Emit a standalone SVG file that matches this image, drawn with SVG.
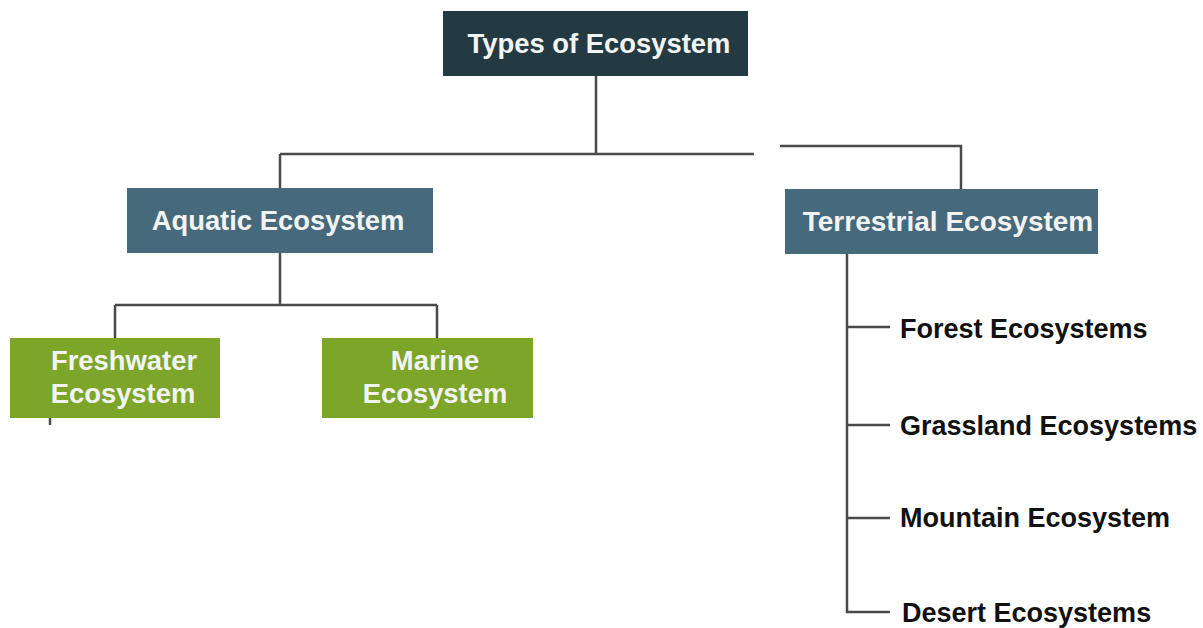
<svg xmlns="http://www.w3.org/2000/svg" width="1203" height="628" viewBox="0 0 1203 628">
  <style>
    .lbl { font-family: "Liberation Sans", Arial, sans-serif; font-weight: bold; font-size: 27.4px; }
    .box-text { fill: #f2f4f4; text-anchor: middle; }
    .item { fill: #111111; font-size: 27px; }
    .wire { fill: none; stroke: #4a4a4a; stroke-width: 2.5; }
    .dark { fill: #243a43; }
    .steel { fill: #46697c; }
    .leaf { fill: #7ca52a; }
  </style>
  <rect width="1203" height="628" fill="#ffffff"/>

  <g id="connectors">
    <!-- root to first level -->
    <path class="wire" d="M596 76 V154 M280 154 H754 M280 154 V188"/>
    <path class="wire" d="M780 146 H961 V189"/>
    <!-- aquatic branch -->
    <path class="wire" d="M280 253 V305 M115 305 H437 M115 305 V338 M437 305 V338"/>
    <path class="wire" d="M50 418 V425"/>
    <!-- terrestrial list -->
    <path class="wire" d="M847 254 V612 H890 M847 327 H890 M847 425 H890 M847 518 H890"/>
  </g>

  <g id="node-types">
    <rect class="dark" x="443" y="11" width="305" height="65"/>
    <text class="lbl box-text" x="599" y="53">Types of Ecosystem</text>
  </g>

  <g id="node-aquatic">
    <rect class="steel" x="127" y="188" width="306" height="65"/>
    <text class="lbl box-text" x="278" y="230">Aquatic Ecosystem</text>
  </g>

  <g id="node-terrestrial">
    <rect class="steel" x="785" y="189" width="313" height="65"/>
    <text class="lbl box-text" x="948" y="231" style="font-size:28px">Terrestrial Ecosystem</text>
  </g>

  <g id="node-freshwater">
    <rect class="leaf" x="10" y="338" width="210" height="80"/>
    <text class="lbl box-text" x="124" y="370">Freshwater</text>
    <text class="lbl box-text" x="123" y="403">Ecosystem</text>
  </g>

  <g id="node-marine">
    <rect class="leaf" x="322" y="338" width="211" height="80"/>
    <text class="lbl box-text" x="435" y="370">Marine</text>
    <text class="lbl box-text" x="435" y="403">Ecosystem</text>
  </g>

  <g id="node-forest">
    <text class="lbl item" x="900" y="338">Forest Ecosystems</text>
  </g>
  <g id="node-grassland">
    <text class="lbl item" x="900" y="435">Grassland Ecosystems</text>
  </g>
  <g id="node-mountain">
    <text class="lbl item" x="900" y="527">Mountain Ecosystem</text>
  </g>
  <g id="node-desert">
    <text class="lbl item" x="902" y="622">Desert Ecosystems</text>
  </g>
</svg>
